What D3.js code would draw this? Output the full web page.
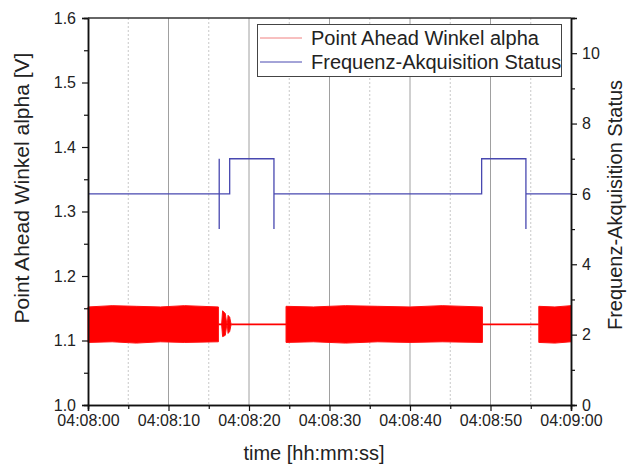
<!DOCTYPE html>
<html>
<head>
<meta charset="utf-8">
<script src="https://cdn.jsdelivr.net/npm/d3@7"></script>
<style>
  body { margin: 0; background: #fff; }
  text { font-family: "Liberation Sans", Arial, sans-serif; fill: #222; }
</style>
</head>
<body>
<div id="chart"></div>
<script>
// time in seconds after 04:08:00
const xTicks = [0, 10, 20, 30, 40, 50, 60];
const leftTicks = [1.0, 1.1, 1.2, 1.3, 1.4, 1.5, 1.6];
const rightTicks = [0, 2, 4, 6, 8, 10];

// noisy red band: envelope points [t, low, high]
const bandA = [[0, 1.097, 1.152], [3, 1.098, 1.154], [6, 1.096, 1.153], [9, 1.098, 1.152], [12, 1.097, 1.154], [16.2, 1.098, 1.152]];
const bandB = [[24.6, 1.097, 1.153], [28, 1.098, 1.152], [32, 1.096, 1.154], [36, 1.098, 1.153], [40, 1.097, 1.152], [44, 1.098, 1.154], [49.0, 1.097, 1.152]];
const bandC = [[56.0, 1.097, 1.153], [58, 1.096, 1.152], [60, 1.098, 1.154]];
// short bursts after the first band
const burst1 = [[16.6, 1.125, 1.125], [16.72, 1.106, 1.146], [17.05, 1.108, 1.142], [17.25, 1.125, 1.125]];
const burst2 = [[17.3, 1.125, 1.125], [17.4, 1.111, 1.139], [17.6, 1.114, 1.136], [17.78, 1.125, 1.125]];
// quiet parts
const flatParts = [[16.2, 17.8, 1.125], [17.8, 24.6, 1.125], [49.0, 56.0, 1.125]];

// status signal [t, value]
const status = [[0, 6], [16.3, 6], [16.3, 7], [16.3, 5], [16.3, 6], [17.6, 6], [17.6, 7], [23.1, 7], [23.1, 5], [23.1, 6],
                [48.9, 6], [48.9, 7], [54.4, 7], [54.4, 5], [54.4, 6], [60, 6]];

const W = 633, H = 466;
const m = {left: 88, right: 62, top: 18, bottom: 61};

const svg = d3.select("#chart").append("svg")
    .attr("width", W).attr("height", H);

const t0 = Date.UTC(2000, 0, 1, 4, 8, 0);
const toDate = s => new Date(t0 + s * 1000);

const x = d3.scaleUtc().domain([toDate(0), toDate(60)]).range([m.left, W - m.right]);
const y = d3.scaleLinear().domain([1.0, 1.6]).range([H - m.bottom, m.top]);
const y2 = d3.scaleLinear().domain([0, 11]).range([H - m.bottom, m.top]);

// grid
const minorX = [5, 15, 25, 35, 45, 55];
svg.append("g").selectAll("line").data(minorX).join("line")
    .attr("x1", d => x(toDate(d))).attr("x2", d => x(toDate(d)))
    .attr("y1", m.top).attr("y2", H - m.bottom)
    .attr("stroke", "#c8c8c8").attr("stroke-dasharray", "2,2").attr("stroke-width", 1);
svg.append("g").selectAll("line").data(xTicks.slice(1, -1)).join("line")
    .attr("x1", d => x(toDate(d))).attr("x2", d => x(toDate(d)))
    .attr("y1", m.top).attr("y2", H - m.bottom)
    .attr("stroke", "#a0a0a0").attr("stroke-width", 1);

// red signal
const area = d3.area()
    .x(d => x(toDate(d[0])))
    .y0(d => y(d[1]))
    .y1(d => y(d[2]));
[bandA, bandB, bandC, burst1, burst2].forEach(b => {
    svg.append("path").attr("d", area(b))
        .attr("fill", "#ff0000").attr("stroke", "#ff1010").attr("stroke-width", 1);
});
svg.append("g").selectAll("line").data(flatParts).join("line")
    .attr("x1", d => x(toDate(d[0]))).attr("x2", d => x(toDate(d[1])))
    .attr("y1", d => y(d[2])).attr("y2", d => y(d[2]))
    .attr("stroke", "#ff0000").attr("stroke-width", 1.8);

// blue status
const line = d3.line().x(d => x(toDate(d[0]))).y(d => y2(d[1]));
svg.append("path").attr("d", line(status))
    .attr("fill", "none").attr("stroke", "#4848b0").attr("stroke-width", 1.3);

// axes
const fmt = d3.utcFormat("%H:%M:%S");
svg.append("g").attr("transform", `translate(0,${H - m.bottom})`)
    .call(d3.axisBottom(x).tickValues(xTicks.map(toDate)).tickFormat(fmt).tickSize(6).tickPadding(4));
svg.append("g").attr("transform", `translate(0,${H - m.bottom})`)
    .call(d3.axisBottom(x).tickValues(minorX.map(toDate)).tickFormat("").tickSize(4));

svg.append("g").attr("transform", `translate(${m.left},0)`)
    .call(d3.axisLeft(y).tickValues(leftTicks).tickFormat(d3.format(".1f")).tickSize(6).tickPadding(6));
svg.append("g").attr("transform", `translate(${m.left},0)`)
    .call(d3.axisLeft(y).tickValues([1.05, 1.15, 1.25, 1.35, 1.45, 1.55]).tickFormat("").tickSize(4));

svg.append("g").attr("transform", `translate(${W - m.right},0)`)
    .call(d3.axisRight(y2).tickValues(rightTicks).tickSize(6).tickPadding(5));
svg.append("g").attr("transform", `translate(${W - m.right},0)`)
    .call(d3.axisRight(y2).tickValues([1, 3, 5, 7, 9, 11]).tickFormat("").tickSize(4));

svg.selectAll(".domain").attr("stroke", "#111").attr("stroke-width", 1.5);
svg.selectAll(".tick line").attr("stroke", "#111").attr("stroke-width", 1.2);
svg.selectAll(".tick text").style("font-size", "16px").style("font-family", "'Liberation Sans', Arial, sans-serif").attr("fill", "#222");

// top frame
svg.append("line")
    .attr("x1", m.left).attr("x2", W - m.right).attr("y1", m.top).attr("y2", m.top)
    .attr("stroke", "#333").attr("stroke-width", 1.5);

// axis titles
svg.append("text").attr("x", 314).attr("y", 460).attr("text-anchor", "middle")
    .style("font-size", "20px").text("time [hh:mm:ss]");
svg.append("text").attr("transform", `translate(29,188) rotate(-90)`)
    .attr("text-anchor", "middle").style("font-size", "21px").text("Point Ahead Winkel alpha [V]");
svg.append("text").attr("transform", `translate(622,205) rotate(-90)`)
    .attr("text-anchor", "middle").style("font-size", "20px").text("Frequenz-Akquisition Status");

// legend
const lg = svg.append("g");
lg.append("rect").attr("x", 257.5).attr("y", 24.5).attr("width", 304).attr("height", 52)
    .attr("fill", "#fff").attr("stroke", "#444").attr("stroke-width", 1);
const legendItems = [["Point Ahead Winkel alpha", "#f08080"], ["Frequenz-Akquisition Status", "#4848b0"]];
legendItems.forEach((d, i) => {
    const cy = 38 + i * 24;
    lg.append("line").attr("x1", 260).attr("x2", 302).attr("y1", cy).attr("y2", cy)
        .attr("stroke", d[1]).attr("stroke-width", 1);
    lg.append("text").attr("x", 311).attr("y", cy + 7).style("font-size", "20px").text(d[0]);
});
</script>
</body>
</html>
